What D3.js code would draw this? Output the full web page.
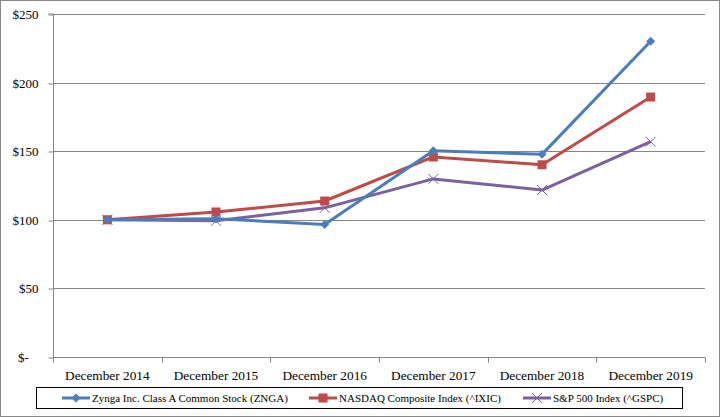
<!DOCTYPE html>
<html><head><meta charset="utf-8">
<script src="https://cdn.jsdelivr.net/npm/d3@7"></script>
<style>body{margin:0;background:#fff}svg{display:block}</style>
</head><body><svg id="c" width="720" height="417"></svg>
<script>
const categories = ["December 2014","December 2015","December 2016","December 2017","December 2018","December 2019"];
const zynga = [100, 100.75, 96.6, 150.4, 147.7, 230.1];
const nasdaq = [100, 105.7, 113.7, 145.8, 140.1, 189.5];
const sp500 = [100, 99.3, 108.7, 129.8, 121.7, 156.9];
const yTicks = [0, 50, 100, 150, 200, 250];
const seriesNames = ["Zynga Inc. Class A Common Stock (ZNGA)", "NASDAQ Composite Index (^IXIC)", "S&P 500 Index (^GSPC)"];

const FONT = "'Liberation Serif', 'Times New Roman', Times, serif";
const svg = d3.select("#c");
svg.append("rect").attr("x",0.5).attr("y",0.5).attr("width",719).attr("height",416).attr("fill","#fff").attr("stroke","#888");

const L=53, R=705, T=14, B=357;
const x = d3.scaleBand().domain(categories).range([L,R]);
const y = d3.scaleLinear().domain([0,250]).range([B,T]);

// gridlines
svg.append("g").selectAll("line").data(yTicks.filter(d=>d>0)).join("line")
  .attr("x1",L).attr("x2",R).attr("y1",d=>Math.round(y(d))+0.5).attr("y2",d=>Math.round(y(d))+0.5)
  .attr("stroke","#868686").attr("stroke-width",1);

// y axis
const ya = svg.append("g").attr("transform",`translate(${L+0.5},0)`)
  .call(d3.axisLeft(y).tickValues(yTicks).tickSize(5).tickPadding(10)
    .tickFormat(d=> d===0 ? "$-\u00a0\u00a0\u00a0" : "$"+d));
ya.attr("font-family",null).attr("font-size",null);
ya.select(".domain").attr("stroke","#868686").attr("d",`M-5,${T}H0V${B}`);
ya.selectAll(".tick line").attr("stroke","#868686").attr("transform",d=>`translate(0,${Math.round(y(d))+0.5-y(d)})`);
ya.selectAll("text").style("font-family",FONT).style("font-size","13px").attr("fill","#000").attr("dy","0.35em");

// x axis
const xa = svg.append("g").attr("transform",`translate(0,${B+0.5})`);
xa.append("line").attr("x1",L).attr("x2",R).attr("stroke","#868686");
const bounds = categories.map(c=>x(c)).concat([R]);
xa.selectAll(".tk").data(bounds).join("line").attr("class","tk")
  .attr("x1",d=>Math.round(d)+0.5).attr("x2",d=>Math.round(d)+0.5).attr("y1",0).attr("y2",5).attr("stroke","#868686");
xa.selectAll("text").data(categories).join("text")
  .attr("x",d=>x(d)+x.bandwidth()/2).attr("y",22).attr("text-anchor","middle")
  .style("font-family",FONT).style("font-size","13.3px").attr("fill","#000").text(d=>d);

const colors = ["#4A7EBB","#BE4B48","#7D60A0"];
const data = [zynga, nasdaq, sp500];
const line = d3.line().x((d,i)=>x(categories[i])+x.bandwidth()/2).y(d=>y(d));

function marker(g, type, cx, cy, col){
  if(type===0){
    g.append("path").attr("d",`M${cx},${cy-4.5}L${cx+4.5},${cy}L${cx},${cy+4.5}L${cx-4.5},${cy}Z`).attr("fill",col);
  } else if(type===1){
    g.append("rect").attr("x",cx-4.5).attr("y",cy-4.5).attr("width",9).attr("height",9).attr("fill",col);
  } else {
    g.append("path").attr("d",`M${cx-5},${cy-5}L${cx+5},${cy+5}M${cx-5},${cy+5}L${cx+5},${cy-5}`).attr("stroke",col).attr("stroke-width",1);
  }
}

const plot = svg.append("g");
[2,1,0].forEach(k=>{
  plot.append("path").datum(data[k]).attr("d",line).attr("fill","none").attr("stroke",colors[k]).attr("stroke-width",3).attr("stroke-linejoin","round");
  data[k].forEach((v,i)=>marker(plot,k,x(categories[i])+x.bandwidth()/2,y(v),colors[k]));
});

// legend
const lg = svg.append("g");
lg.append("rect").attr("x",36.5).attr("y",387.5).attr("width",646).attr("height",21).attr("fill","#fff").attr("stroke","#000");
const lx = [62, 309, 523];
seriesNames.forEach((n,k)=>{
  lg.append("line").attr("x1",lx[k]).attr("x2",lx[k]+28).attr("y1",398).attr("y2",398).attr("stroke",colors[k]).attr("stroke-width",3);
  marker(lg,k,lx[k]+14,398,colors[k]);
  lg.append("text").attr("x",lx[k]+30).attr("y",402)
    .style("font-family",FONT).style("font-size","11px").attr("fill","#000").text(n);
});
</script></body></html>
